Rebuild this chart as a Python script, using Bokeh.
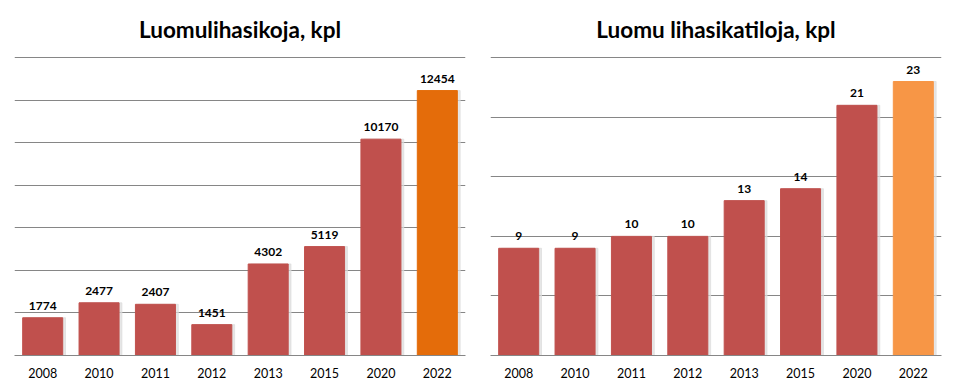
from bokeh.plotting import figure
from bokeh.layouts import row
from bokeh.models import ColumnDataSource, FactorRange, Range1d, FixedTicker
from bokeh.core.properties import value
from bokeh.transform import dodge
from bokeh.embed import file_html
from bokeh.resources import INLINE

years = ["2008", "2010", "2011", "2012", "2013", "2015", "2020", "2022"]
pigs = [1774, 2477, 2407, 1451, 4302, 5119, 10170, 12454]
farms = [9, 9, 10, 10, 13, 14, 21, 23]

RED = "#C0504D"
pig_colors = [RED] * 7 + ["#E46C0A"]
farm_colors = [RED] * 7 + ["#F79646"]

FONT = "Lato"


def make(title, values, colors, ymax, step, bl, br):
    src = ColumnDataSource(dict(year=years, val=values, color=colors,
                                label=[str(v) for v in values]))
    p = figure(x_range=FactorRange(*years, range_padding=0),
               y_range=Range1d(0, ymax * 1.004),
               frame_width=451, frame_height=299,
               output_backend="svg", toolbar_location=None,
               min_border_left=bl, min_border_right=br,
               min_border_top=56, min_border_bottom=26)
    p.title.text = title
    p.title.align = "center"
    p.title.text_font = FONT
    p.title.text_font_size = "22.5px"
    p.title.text_font_style = "bold"
    p.title.text_color = "#000000"
    p.title.standoff = 27

    p.vbar(x=dodge("year", 0.05, range=p.x_range), top="val", width=0.71,
           source=src, color="#dcdcdc", alpha=0.7)
    p.vbar(x="year", top="val", width=0.71, source=src,
           fill_color="color", line_color="color")
    p.text(x="year", y="val", text="label", source=src,
           text_align="center", text_baseline="bottom", y_offset=-8,
           text_font=value(FONT), text_font_size="12px",
           text_font_style="bold", text_color="#000000")

    p.yaxis.visible = False
    p.yaxis.ticker = FixedTicker(ticks=list(range(0, ymax + 1, step)))
    p.ygrid.grid_line_color = "#868686"
    p.ygrid.grid_line_width = 1
    p.xgrid.visible = False

    p.xaxis.axis_line_color = "#868686"
    p.xaxis.major_tick_line_color = None
    p.xaxis.minor_tick_line_color = None
    p.xaxis.major_label_text_font = FONT
    p.xaxis.major_label_text_font_size = "12.5px"
    p.xaxis.major_label_text_color = "#000000"
    p.xaxis.major_label_standoff = 6

    p.outline_line_color = None
    p.background_fill_color = "white"
    p.border_fill_color = "white"
    return p


p1 = make("Luomulihasikoja, kpl", pigs, pig_colors, 14000, 2000, 14, 13)
p2 = make("Luomu lihasikatiloja, kpl", farms, farm_colors, 25, 5, 12, 7)

layout = row(p1, p2, spacing=0)
open("out.html", "w").write(file_html(layout, INLINE))
